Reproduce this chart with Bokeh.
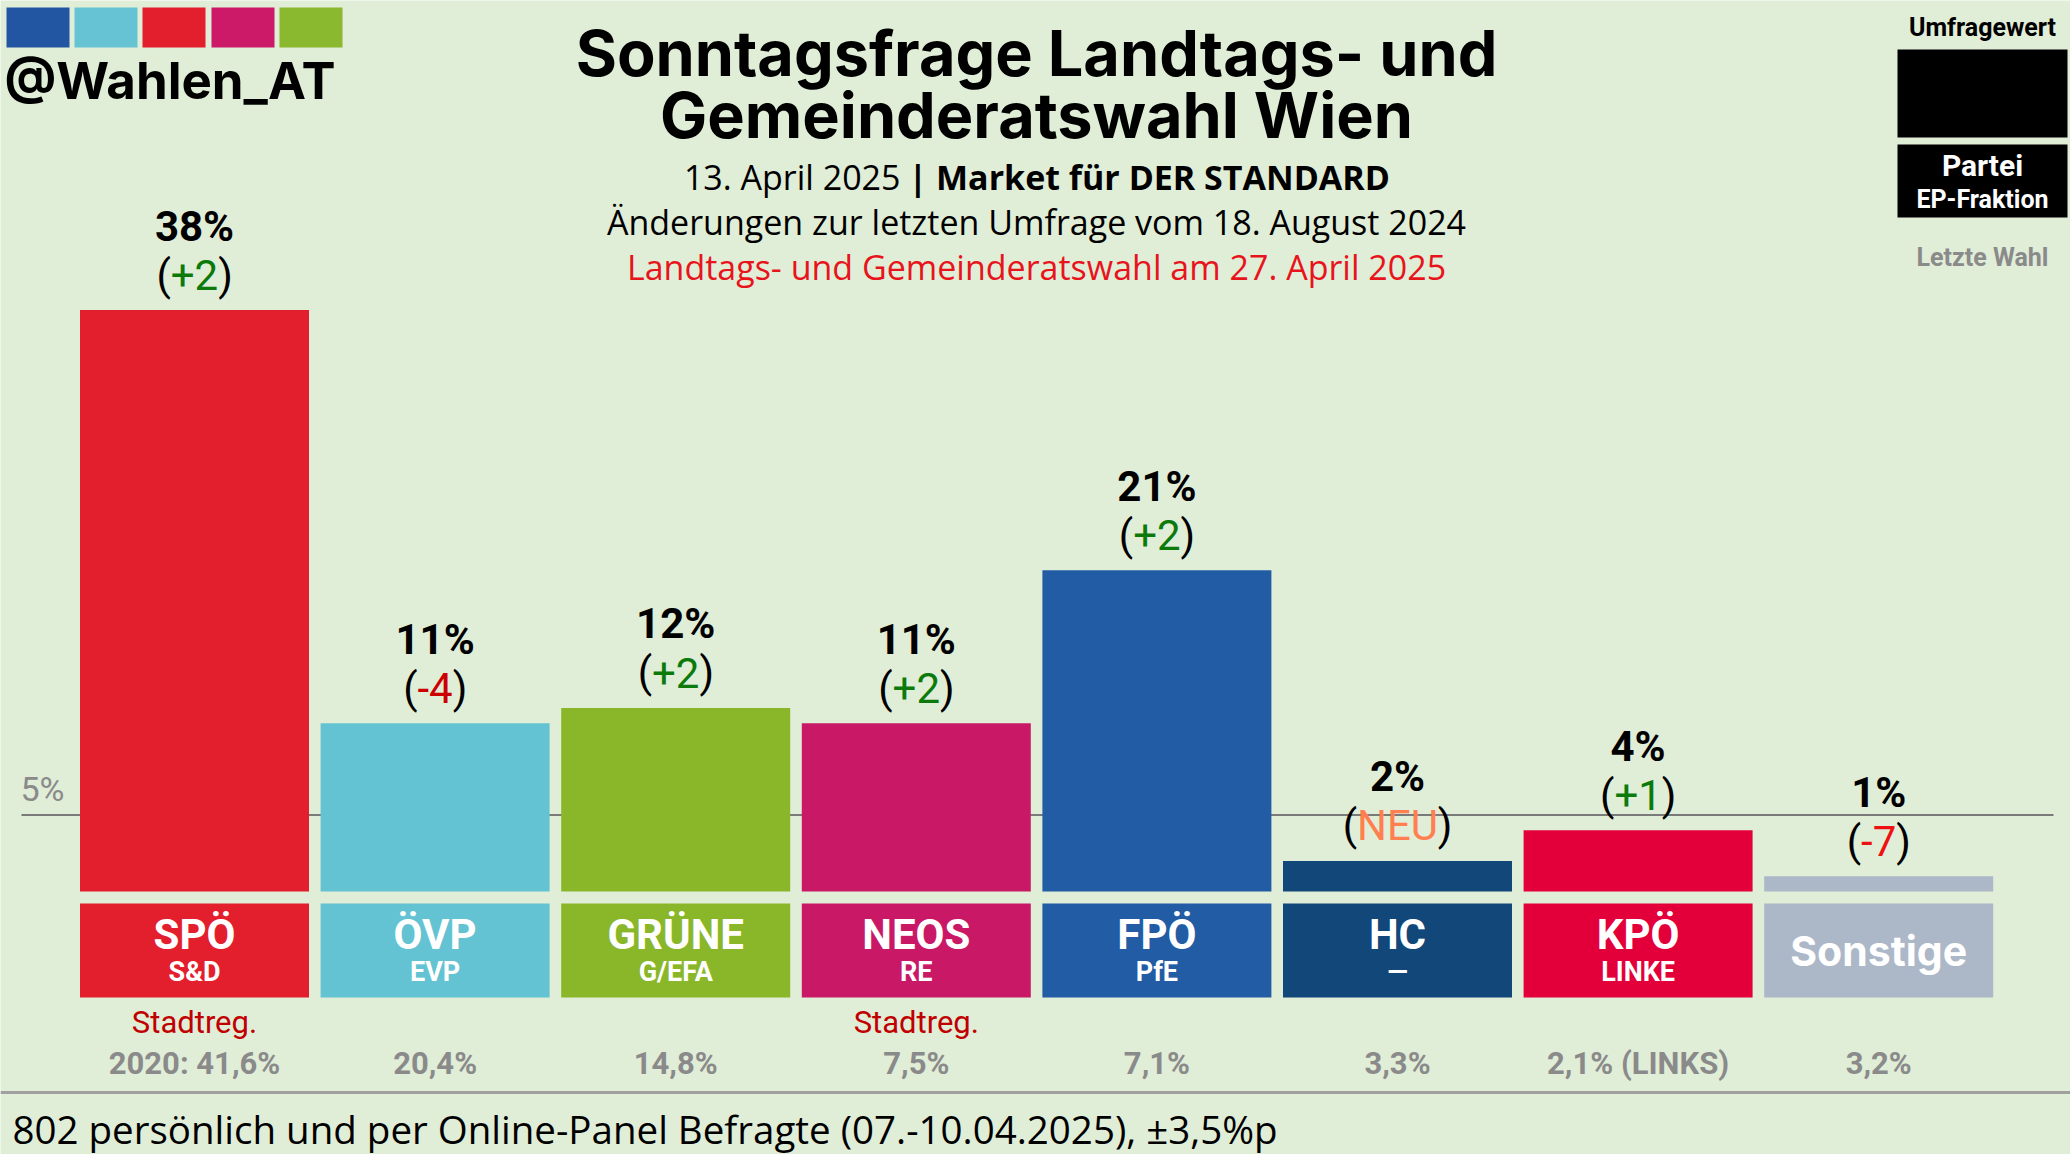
from bokeh.plotting import figure
from bokeh.models import Range1d, ColumnDataSource
from bokeh.core.properties import value
from bokeh.embed import file_html
from bokeh.resources import INLINE

# ---------------- data ----------------
parties = ["SPÖ", "ÖVP", "GRÜNE", "NEOS", "FPÖ", "HC", "KPÖ", "Sonstige"]
fractions = ["S&D", "EVP", "G/EFA", "RE", "PfE", "—", "LINKE", ""]
poll = [38, 11, 12, 11, 21, 2, 4, 1]
changes = ["+2", "-4", "+2", "+2", "+2", "NEU", "+1", "-7"]
notes = ["Stadtreg.", "", "", "Stadtreg.", "", "", "", ""]
last_vote = ["2020: 41,6%", "20,4%", "14,8%", "7,5%", "7,1%", "3,3%", "2,1% (LINKS)", "3,2%"]
colors = ["#e31f2e", "#63c3d2", "#8ab72a", "#c91866", "#215ca4", "#12477a", "#e3003a", "#acb7c8"]
change_colors = ["#0b7a0b", "#cc0000", "#0b7a0b", "#0b7a0b", "#0b7a0b", "#ff7f50", "#0b7a0b", "#ee1111"]
threshold = 5

BG = "#e0edd7"
W, H = 2070, 1154

# reference-pixel -> data conversions (layout only)
X0, XS = 194.0, 240.6
Y0, YS = 891.0, 15.3
def dx(px):
    return (px - X0) / XS
def dy(py):
    return (Y0 - py) / YS

p = figure(width=W, height=H, output_backend="svg", toolbar_location=None,
           x_range=Range1d(dx(0), dx(2070)), y_range=Range1d(dy(1154), dy(0)),
           x_axis_type=None, y_axis_type=None, min_border=0)
p.grid.visible = False
p.outline_line_color = None
p.background_fill_color = BG
p.border_fill_color = BG

idx = list(range(len(parties)))
bw = 229 / XS

# threshold line
p.segment(x0=[dx(21)], x1=[dx(2053)], y0=[threshold], y1=[threshold], line_color="#7a7a7a", line_width=2)
p.text(x=[dx(20)], y=[threshold + 26 / YS], text=[f"{threshold}%"], text_font=value("Roboto"),
       text_font_size="34px", text_color="#8a8a8a", text_align="left", text_baseline="middle")

# bars
p.vbar(x=idx, top=poll, bottom=0, width=bw, fill_color=colors, line_color=None)

# label boxes
p.vbar(x=idx, top=dy(903), bottom=dy(997), width=bw, fill_color=colors, line_color=None)

# value labels
p.text(x=idx, y=[v + 84 / YS for v in poll], text=[f"{v}%" for v in poll],
       text_font=value("Roboto"), text_font_style="bold", text_font_size="42px",
       text_color="black", text_align="center", text_baseline="middle")

# change labels with parentheses
cw = {"+": 0.567, "-": 0.276, "N": 0.713, "E": 0.558, "U": 0.649}
FS = 42
inner_w = [sum(cw.get(c, 0.561) for c in s) * FS for s in changes]
ych = [v + 35 / YS for v in poll]
p.text(x=idx, y=ych, text=changes, text_font=value("Roboto"), text_font_size=f"{FS}px",
       text_color=change_colors, text_align="center", text_baseline="middle")
src_l = ColumnDataSource(dict(x=idx, y=ych, t=["("] * len(idx), o=[-w / 2 for w in inner_w]))
src_r = ColumnDataSource(dict(x=idx, y=ych, t=[")"] * len(idx), o=[w / 2 for w in inner_w]))
p.text(x="x", y="y", text="t", x_offset="o", source=src_l, text_font=value("Roboto"),
       text_font_size=f"{FS}px", text_color="black", text_align="right", text_baseline="middle")
p.text(x="x", y="y", text="t", x_offset="o", source=src_r, text_font=value("Roboto"),
       text_font_size=f"{FS}px", text_color="black", text_align="left", text_baseline="middle")

# party names inside boxes
two = [i for i in idx if fractions[i]]
one = [i for i in idx if not fractions[i]]
p.text(x=two, y=[dy(934)] * len(two), text=[parties[i] for i in two], text_font=value("Roboto"),
       text_font_style="bold", text_font_size="42px", text_color="white",
       text_align="center", text_baseline="middle")
p.text(x=two, y=[dy(971)] * len(two), text=[fractions[i] for i in two], text_font=value("Roboto"),
       text_font_style="bold", text_font_size="27px", text_color="white",
       text_align="center", text_baseline="middle")
p.text(x=one, y=[dy(950)] * len(one), text=[parties[i] for i in one], text_font=value("Inter"),
       text_font_style="bold", text_font_size="41px", text_color="white",
       text_align="center", text_baseline="middle")

# below boxes
p.text(x=idx, y=[dy(1022)] * len(idx), text=notes, text_font=value("Roboto"),
       text_font_size="31px", text_color="#c00000", text_align="center", text_baseline="middle")
p.text(x=idx, y=[dy(1063)] * len(idx), text=last_vote, text_font=value("Roboto"),
       text_font_style="bold", text_font_size="31px", text_color="#8a8a8a",
       text_align="center", text_baseline="middle")

# footer line and text
p.segment(x0=[dx(0)], x1=[dx(2070)], y0=[dy(1092)], y1=[dy(1092)], line_color="#a0a0a0", line_width=3)
p.text(x=[dx(12)], y=[dy(1128)], text=["802 persönlich und per Online-Panel Befragte (07.-10.04.2025), ±3,5%p"],
       text_font=value("Open Sans"), text_font_size="38.5px", text_color="black",
       text_align="left", text_baseline="middle")

# title block
cx = dx(1036)
p.text(x=[cx, cx], y=[dy(52), dy(114)], text=["Sonntagsfrage Landtags- und", "Gemeinderatswahl Wien"],
       text_font=value("Inter"), text_font_style="bold", text_font_size="63px", text_color="black",
       text_align="center", text_baseline="middle")
p.text(x=[dx(900)], y=[dy(176)], text=["13. April 2025"], text_font=value("Open Sans"),
       text_font_size="34px", text_color="black", text_align="right", text_baseline="middle")
p.text(x=[dx(908)], y=[dy(176)], text=["| Market für DER STANDARD"], text_font=value("Open Sans"),
       text_font_style="bold", text_font_size="34px", text_color="black", text_align="left",
       text_baseline="middle")
p.text(x=[cx], y=[dy(221)], text=["Änderungen zur letzten Umfrage vom 18. August 2024"],
       text_font=value("Open Sans"), text_font_size="34px", text_color="black",
       text_align="center", text_baseline="middle")
p.text(x=[cx], y=[dy(266)], text=["Landtags- und Gemeinderatswahl am 27. April 2025"],
       text_font=value("Open Sans"), text_font_size="34px", text_color="#e8141c",
       text_align="center", text_baseline="middle")

# logo
logo_cols = ["#2256a2", "#66c3d3", "#e31f2e", "#cc1a69", "#8ab82e"]
lx = [6, 74, 142, 211, 279]
p.quad(left=[dx(a) for a in lx], right=[dx(a + 63) for a in lx], top=[dy(7)] * 5, bottom=[dy(47)] * 5,
       fill_color=logo_cols, line_color=None)
p.text(x=[dx(4)], y=[dy(80)], text=["@Wahlen_AT"], text_font=value("Inter"), text_font_style="bold",
       text_font_size="51px", text_color="black", text_align="left", text_baseline="middle")

# legend (top right)
lc = dx(1982)
p.text(x=[lc], y=[dy(27)], text=["Umfragewert"], text_font=value("Roboto"), text_font_style="bold",
       text_font_size="25px", text_color="black", text_align="center", text_baseline="middle")
p.quad(left=[dx(1897)] * 2, right=[dx(2067)] * 2, top=[dy(49), dy(144)], bottom=[dy(137), dy(217)],
       fill_color="black", line_color=None)
p.text(x=[lc], y=[dy(165)], text=["Partei"], text_font=value("Roboto"), text_font_style="bold",
       text_font_size="30px", text_color="white", text_align="center", text_baseline="middle")
p.text(x=[lc], y=[dy(199)], text=["EP-Fraktion"], text_font=value("Roboto"), text_font_style="bold",
       text_font_size="25px", text_color="white", text_align="center", text_baseline="middle")
p.text(x=[lc], y=[dy(257)], text=["Letzte Wahl"], text_font=value("Roboto"), text_font_style="bold",
       text_font_size="25px", text_color="#8a8a8a", text_align="center", text_baseline="middle")

html = file_html(p, INLINE)
html = html.replace("<body>", f'<body style="background:{BG}; margin:0; overflow:hidden;">', 1)
open("out.html", "w").write(html)
